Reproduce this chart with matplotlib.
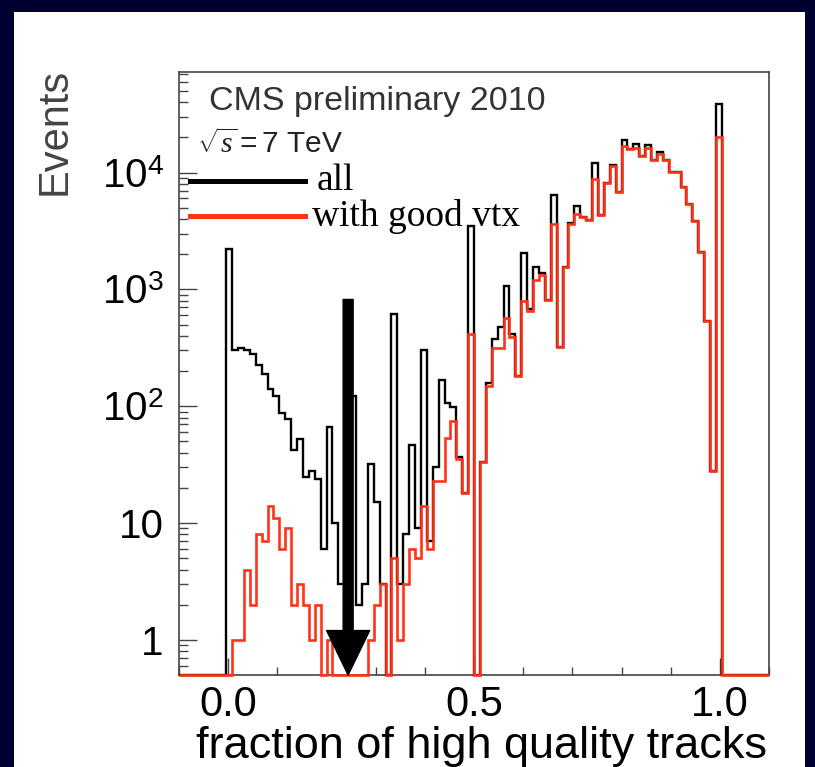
import numpy as np
import matplotlib
matplotlib.use('Agg')
import matplotlib.pyplot as plt
from matplotlib.patches import Rectangle, FancyArrowPatch
from matplotlib.lines import Line2D
from matplotlib.ticker import FixedLocator, MultipleLocator, LogLocator, NullFormatter

# ---------------- data ----------------
bin_lo, bin_hi, n_bins = -0.1, 1.1, 100

all_counts = [0, 0, 0, 0, 0, 0, 0, 0,
              2230,
              304, 313, 300, 281, 226, 189, 140, 123, 88, 77,
              42, 52, 25, 28, 24, 6, 66, 10, 3, 3,
              123, 2, 3, 32, 15, 3, 0, 620, 3, 8,
              47, 9, 300, 7, 30, 166, 106, 98, 37, 18,
              3500, 0, 33, 157, 377, 474, 1059, 411, 183, 2040,
              682, 1550, 1377, 804, 6380, 320, 1550, 3700, 5160, 4160,
              3950, 12070, 4300, 8130, 11700, 6810, 19150, 16030, 17700, 13770,
              17100, 12880, 15000, 12730, 10120, 10120, 7510, 5410, 3840, 2080,
              541, 28, 38900,
              0, 0, 0, 0, 0, 0, 0, 0]

vtx_counts = [0, 0, 0, 0, 0, 0, 0, 0,
              0,
              1, 1, 4, 2, 8, 7, 14, 11, 6, 9,
              2, 3, 2, 1, 2, 0, 1, 0, 0, 0,
              0, 0, 0, 1, 2, 3, 0, 5, 1, 3,
              6, 5, 14, 6, 23, 23, 53, 75, 35, 18,
              411, 0, 33, 150, 316, 316, 571, 389, 183, 788,
              659, 1192, 1315, 804, 3600, 320, 1550, 3600, 4385, 4160,
              3950, 8740, 4300, 8130, 11300, 6810, 16760, 16030, 16340, 13770,
              16340, 12880, 14320, 12730, 10120, 10120, 7510, 5410, 3840, 2080,
              541, 28, 20150,
              0, 0, 0, 0, 0, 0, 0, 0]

cut_value = 0.244
arrow_top = 820

ytick_vals = [1, 10, 100, 1000, 10000]
ytick_labels = ['1', '10', '$10^{2}$', '$10^{3}$', '$10^{4}$']
xtick_vals = [0.0, 0.5, 1.0]
xtick_labels = ['0.0', '0.5', '1.0']

legend_labels = ['all', 'with good vtx']

# ---------------- style ----------------
plt.rcParams['font.family'] = ['Liberation Sans', 'DejaVu Sans']
plt.rcParams['mathtext.fontset'] = 'custom'
plt.rcParams['mathtext.rm'] = 'Liberation Sans'
plt.rcParams['mathtext.it'] = 'Liberation Serif:italic'
plt.rcParams['mathtext.bf'] = 'Liberation Sans:bold'

W, H = 815, 767
fig = plt.figure(figsize=(W / 100, H / 100), dpi=100)
fig.patch.set_facecolor('#000030')
fig.add_artist(Rectangle((14 / W, 0), (805 - 14) / W, (H - 12) / H,
                         transform=fig.transFigure, facecolor='white',
                         edgecolor='none', zorder=0))

ax = fig.add_axes([179 / W, (H - 675) / H, 590 / W, 603 / H])
ax.set_facecolor('white')
ymin, ymax = 0.5, 72600
ax.set_yscale('log')
ax.set_xlim(bin_lo, bin_hi)
ax.set_ylim(ymin, ymax)

edges = np.linspace(bin_lo, bin_hi, n_bins + 1)
all_arr = np.maximum(np.array(all_counts, dtype=float), ymin)
vtx_arr = np.maximum(np.array(vtx_counts, dtype=float), ymin)

ax.stairs(all_arr, edges, baseline=ymin, color='black', lw=1.7, zorder=3, clip_on=False)
ax.stairs(vtx_arr, edges, baseline=ymin, color='#ff3318', lw=1.9, zorder=3.1, clip_on=False)

arrow = FancyArrowPatch((cut_value, arrow_top), (cut_value, ymin),
                        arrowstyle='simple,head_length=3.2,head_width=3.1,tail_width=0.72',
                        mutation_scale=10, color='black', shrinkA=0, shrinkB=0,
                        zorder=4, clip_on=False)
ax.add_patch(arrow)

# ticks
for s in ax.spines.values():
    s.set_color('#444444')
    s.set_linewidth(1.2)

ax.xaxis.set_major_locator(FixedLocator(xtick_vals))
ax.set_xticklabels(xtick_labels)
ax.xaxis.set_minor_locator(MultipleLocator(0.1))
ax.yaxis.set_major_locator(FixedLocator(ytick_vals))
ax.set_yticklabels(ytick_labels)
ax.yaxis.set_minor_locator(LogLocator(base=10, subs=np.arange(2, 10), numticks=20))
ax.yaxis.set_minor_formatter(NullFormatter())

ax.tick_params(axis='both', which='both', direction='in', color='#444444', width=1.0,
               top=False, right=False)
ax.tick_params(axis='x', which='major', length=12.2, labelsize=30, pad=7)
ax.tick_params(axis='x', which='minor', length=5.8)
ax.tick_params(axis='y', which='major', length=13, labelsize=29, pad=11)
ax.tick_params(axis='y', which='minor', length=6.5)

# labels
fig.text(482 / W, 1 - 758 / H, 'fraction of high quality tracks', fontsize=32.5,
         ha='center', va='baseline', color='black')
fig.text(55 / W, 1 - 68 / H, 'Events', fontsize=30, rotation=90,
         ha='center', va='top', color='#444444')

# annotations
fig.text(209 / W, 1 - 110 / H, 'CMS preliminary 2010', fontsize=24.5,
         ha='left', va='baseline', color='#333333')
fig.text(197 / W, 1 - 153 / H, r'$\sqrt{s}\mathit{=7}$ TeV', fontsize=21.5,
         ha='left', va='baseline', color='#222222')

# legend
colors = ['black', '#ff3318']
line_y = [181, 216]
text_x = [317, 312]
text_base = [190, 226]
for lab, c, ly, tx, tb in zip(legend_labels, colors, line_y, text_x, text_base):
    fig.add_artist(Line2D([190 / W, 305 / W], [1 - ly / H, 1 - ly / H],
                          transform=fig.transFigure, color=c, lw=3.6, zorder=5))
    fig.text(tx / W, 1 - tb / H, lab, fontsize=27, family=['Liberation Serif', 'DejaVu Serif'],
             ha='left', va='baseline', color='black')

fig.savefig('out.png', dpi=100, facecolor=fig.get_facecolor())
